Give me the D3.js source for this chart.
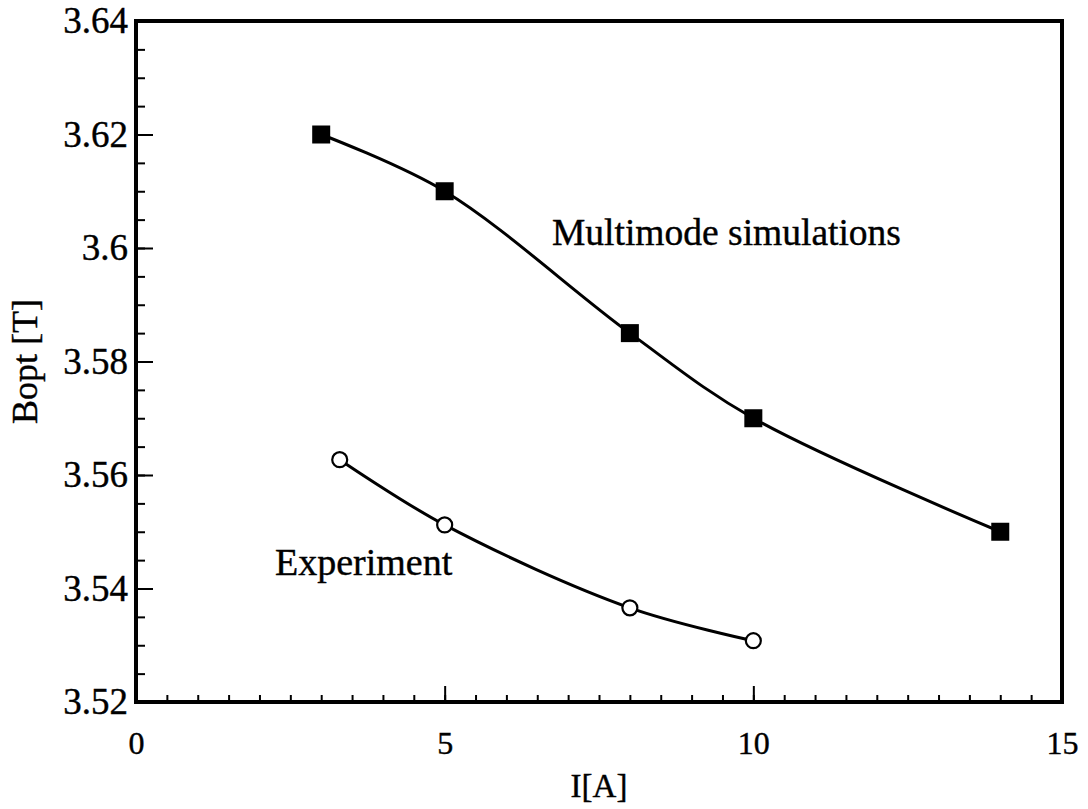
<!DOCTYPE html>
<html>
<head>
<meta charset="utf-8">
<script src="https://cdn.jsdelivr.net/npm/d3@7"></script>
<style>
  body { margin: 0; background: #fff; }
  text { font-family: "Liberation Serif", "Times New Roman", serif; fill: #000; stroke: #000; stroke-width: 0.4px; }
</style>
</head>
<body>
<div id="chart"></div>
<script>
// data
var simI = [3, 5, 8, 10, 14];
var simB = [3.62, 3.61, 3.585, 3.57, 3.55];
var expI = [3.3, 5, 8, 10];
var expB = [3.5627, 3.5512, 3.5366, 3.5308];

var xTicks = [0, 5, 10, 15];
var yTicks = [3.52, 3.54, 3.56, 3.58, 3.60, 3.62, 3.64];
var yTickLabels = ["3.52", "3.54", "3.56", "3.58", "3.6", "3.62", "3.64"];

//svg limits
var svgWidth = 1088;
var svgHeight = 809;

var margin = { top: 21, right: 26, bottom: 107, left: 136 };
var width = svgWidth - margin.left - margin.right;
var height = svgHeight - margin.top - margin.bottom;

var svg = d3.select("#chart")
  .append("svg")
  .attr("width", svgWidth)
  .attr("height", svgHeight);

var chartGroup = svg.append("g")
  .attr("transform", `translate(${margin.left}, ${margin.top})`);

var xScale = d3.scaleLinear().domain([0, 15]).range([0, width]);
var yScale = d3.scaleLinear().domain([3.52, 3.64]).range([height, 0]);

// minor ticks (inside the frame)
var xMinor = d3.axisBottom(xScale)
  .tickValues(d3.range(0, 15.01, 0.5))
  .tickSize(-7)
  .tickFormat("");
chartGroup.append("g")
  .attr("transform", `translate(0, ${height})`)
  .call(xMinor)
  .call(g => g.select(".domain").remove())
  .call(g => g.selectAll("line").attr("stroke-width", 2));

var yMinor = d3.axisLeft(yScale)
  .tickValues(d3.range(3.52, 3.6401, 0.005))
  .tickSize(-9)
  .tickFormat("");
chartGroup.append("g")
  .call(yMinor)
  .call(g => g.select(".domain").remove())
  .call(g => g.selectAll("line").attr("stroke-width", 2));

// major ticks with labels
var bottomAxis = d3.axisBottom(xScale)
  .tickValues(xTicks)
  .tickSize(-16)
  .tickPadding(29)
  .tickFormat(d3.format("d"));
chartGroup.append("g")
  .attr("transform", `translate(0, ${height})`)
  .call(bottomAxis)
  .call(g => g.select(".domain").remove())
  .call(g => g.selectAll("line").attr("stroke-width", 2))
  .call(g => g.selectAll("text").style("font-size", "32px"));

var leftAxis = d3.axisLeft(yScale)
  .tickValues(yTicks)
  .tickSize(-17)
  .tickPadding(8)
  .tickFormat((d, i) => yTickLabels[i]);
chartGroup.append("g")
  .call(leftAxis)
  .call(g => g.select(".domain").remove())
  .call(g => g.selectAll("line").attr("stroke-width", 2))
  .call(g => g.selectAll("text").style("font-size", "37px"));

// frame
chartGroup.append("rect")
  .attr("x", 0)
  .attr("y", 0)
  .attr("width", width)
  .attr("height", height)
  .attr("fill", "none")
  .attr("stroke", "#000")
  .attr("stroke-width", 4);

// curves
var line = d3.line()
  .x(d => xScale(d[0]))
  .y(d => yScale(d[1]))
  .curve(d3.curveCatmullRom.alpha(0.5));

var simData = simI.map((v, i) => [v, simB[i]]);
var expData = expI.map((v, i) => [v, expB[i]]);

chartGroup.append("path")
  .datum(simData)
  .attr("d", line)
  .attr("fill", "none")
  .attr("stroke", "#000")
  .attr("stroke-width", 3);

chartGroup.append("path")
  .datum(expData)
  .attr("d", line)
  .attr("fill", "none")
  .attr("stroke", "#000")
  .attr("stroke-width", 3);

// markers
var sq = 18;
chartGroup.selectAll(".sim")
  .data(simData)
  .enter()
  .append("rect")
  .classed("sim", true)
  .attr("x", d => xScale(d[0]) - sq / 2)
  .attr("y", d => yScale(d[1]) - sq / 2)
  .attr("width", sq)
  .attr("height", sq)
  .attr("fill", "#000");

chartGroup.selectAll(".exp")
  .data(expData)
  .enter()
  .append("circle")
  .classed("exp", true)
  .attr("cx", d => xScale(d[0]))
  .attr("cy", d => yScale(d[1]))
  .attr("r", 7.5)
  .attr("fill", "#fff")
  .attr("stroke", "#000")
  .attr("stroke-width", 2.2);

// annotations
svg.append("text")
  .attr("x", 552)
  .attr("y", 245)
  .style("font-size", "37.5px")
  .text("Multimode simulations");

svg.append("text")
  .attr("x", 275)
  .attr("y", 575)
  .style("font-size", "38px")
  .text("Experiment");

// axis titles
svg.append("text")
  .attr("x", margin.left + width / 2)
  .attr("y", 797)
  .attr("text-anchor", "middle")
  .style("font-size", "33px")
  .text("I[A]");

svg.append("text")
  .attr("transform", `translate(37, ${margin.top + height / 2}) rotate(-90)`)
  .attr("text-anchor", "middle")
  .style("font-size", "36px")
  .text("Bopt [T]");
</script>
</body>
</html>
